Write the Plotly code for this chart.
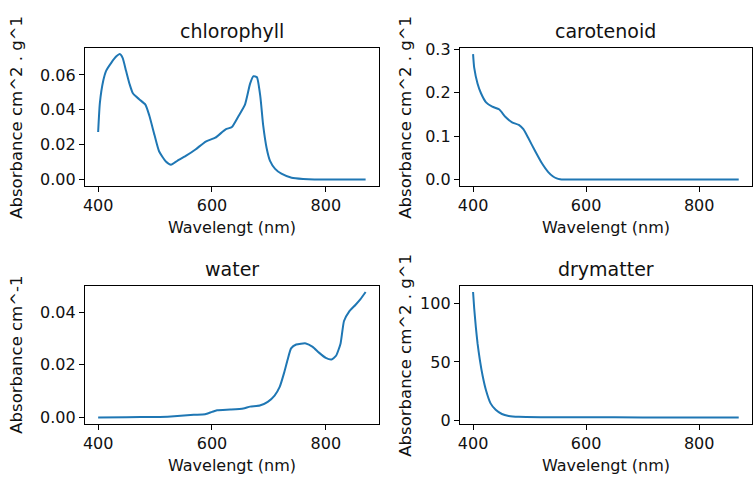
import plotly.graph_objects as go

# ---- data ----
chl_wl = [400, 403, 409, 414, 423, 432, 438, 443, 449, 455, 461, 472, 483, 490, 499, 507, 519, 528,
          539, 554, 571, 589, 606, 624, 635, 647, 658, 667, 673, 679, 685, 690, 696, 702, 711, 722,
          740, 760, 780, 820, 870]
chl_val = [0.0273, 0.0439, 0.0568, 0.0624, 0.0670, 0.0707, 0.0720, 0.0698, 0.0624, 0.0550, 0.0495,
           0.0461, 0.0430, 0.0366, 0.0255, 0.0162, 0.0103, 0.0085, 0.0107, 0.0135, 0.0172, 0.0218,
           0.0240, 0.0288, 0.0301, 0.0366, 0.0430, 0.0550, 0.0593, 0.0587, 0.0476, 0.0310, 0.0181,
           0.0107, 0.0061, 0.0033, 0.0010, 0.0003, 0.0, 0.0, 0.0]

car_wl = [400, 402, 408, 414, 423, 434, 446, 457, 469, 481, 489, 498, 510, 521, 533, 541, 548, 554,
          560, 570, 600, 700, 870]
car_val = [0.2895, 0.258, 0.221, 0.199, 0.178, 0.168, 0.162, 0.145, 0.132, 0.126, 0.116, 0.095, 0.065,
           0.039, 0.017, 0.0075, 0.0025, 0.0006, 0.0, 0.0, 0.0, 0.0, 0.0]

wat_wl = [400, 450, 500, 522, 545, 568, 588, 600, 609, 632, 655, 667, 684, 698, 710, 719, 727, 733, 739,
          748, 765, 777, 788, 800, 810, 818, 826, 832, 841, 852, 861, 870]
wat_val = [0.0, 0.0001, 0.0002, 0.0003, 0.0006, 0.0010, 0.0012, 0.0021, 0.0027, 0.0030, 0.0034, 0.0041,
           0.0045, 0.0059, 0.0083, 0.0116, 0.0171, 0.0220, 0.0262, 0.0277, 0.0281, 0.0268, 0.0246,
           0.0226, 0.0220, 0.0234, 0.0281, 0.0366, 0.0402, 0.0427, 0.0449, 0.0476]

dry_wl = [400, 402, 405, 408, 412, 417, 423, 431, 440, 451, 463, 481, 520, 600, 700, 870]
dry_val = [109.7, 95.9, 79.3, 65.6, 51.8, 38.0, 25.6, 14.6, 9.1, 5.5, 3.9, 3.1, 2.8, 2.7, 2.6, 2.6]

titles = ["chlorophyll", "carotenoid", "water", "drymatter"]
ylabels = ["Absorbance cm^2 . g^1", "Absorbance cm^2 . g^1", "Absorbance cm^-1", "Absorbance cm^2 . g^1"]
x_ticks = [400, 600, 800]
y_ticks = [[0, 0.02, 0.04, 0.06], [0.0, 0.1, 0.2, 0.3], [0, 0.02, 0.04], [0, 50, 100]]
y_formats = [".2f", ".1f", ".2f", "d"]
xlabel = "Wavelengt (nm)"

series = [(chl_wl, chl_val), (car_wl, car_val), (wat_wl, wat_val), (dry_wl, dry_val)]

W, H = 754, 487
boxes = [(83, 378, 41, 183), (459, 752, 41, 183), (83, 378, 286, 428), (459, 752, 286, 428)]
ylab_x = [15, 405, 15, 405]

FONT = "DejaVu Sans"
TICK_SIZE = 16
LABEL_SIZE = 16
YLABEL_SIZE = 16.5
TITLE_SIZE = 19

fig = go.Figure()
annotations = []
layout = {}

for i, ((wl, val), (x0, x1, y0, y1)) in enumerate(zip(series, boxes)):
    n = "" if i == 0 else str(i + 1)
    fig.add_trace(go.Scatter(x=wl, y=val, mode="lines", xaxis="x" + n, yaxis="y" + n,
                             line=dict(color="#1f77b4", width=2, shape="spline", smoothing=0.5),
                             showlegend=False, hoverinfo="skip"))
    xmin, xmax = min(wl), max(wl)
    ymin, ymax = min(val), max(val)
    xm = 0.05 * (xmax - xmin)
    ym = 0.05 * (ymax - ymin)
    common = dict(showline=True, mirror=True, linecolor="black", linewidth=1, showgrid=False,
                  zeroline=False, ticks="outside", ticklen=5, tickwidth=1, tickcolor="black",
                  tickfont=dict(family=FONT, size=TICK_SIZE, color="#111"))
    layout["xaxis" + n] = dict(domain=[x0 / W, x1 / W], anchor="y" + n, range=[xmin - xm, xmax + xm],
                               tickvals=x_ticks, **common)
    layout["yaxis" + n] = dict(domain=[1 - y1 / H, 1 - y0 / H], anchor="x" + n,
                               range=[ymin - ym, ymax + ym], tickvals=y_ticks[i],
                               tickformat=y_formats[i], **common)
    cx = (x0 + x1) / 2 / W
    annotations.append(dict(text=titles[i], x=cx, y=1 - (y0 - 17) / H, xref="paper", yref="paper",
                            showarrow=False, xanchor="center", yanchor="middle",
                            font=dict(family=FONT, size=TITLE_SIZE, color="#111")))
    annotations.append(dict(text=xlabel, x=cx, y=1 - (y1 + 43) / H, xref="paper", yref="paper",
                            showarrow=False, xanchor="center", yanchor="middle",
                            font=dict(family=FONT, size=LABEL_SIZE, color="#111")))
    annotations.append(dict(text=ylabels[i], x=ylab_x[i] / W, y=1 - (y0 + y1) / 2 / H,
                            xref="paper", yref="paper", textangle=-90, showarrow=False,
                            xanchor="center", yanchor="middle",
                            font=dict(family=FONT, size=YLABEL_SIZE, color="#111")))

fig.update_layout(width=W, height=H, margin=dict(l=0, r=0, t=0, b=0),
                  paper_bgcolor="white", plot_bgcolor="white", annotations=annotations, **layout)
fig.write_html("out.html")
